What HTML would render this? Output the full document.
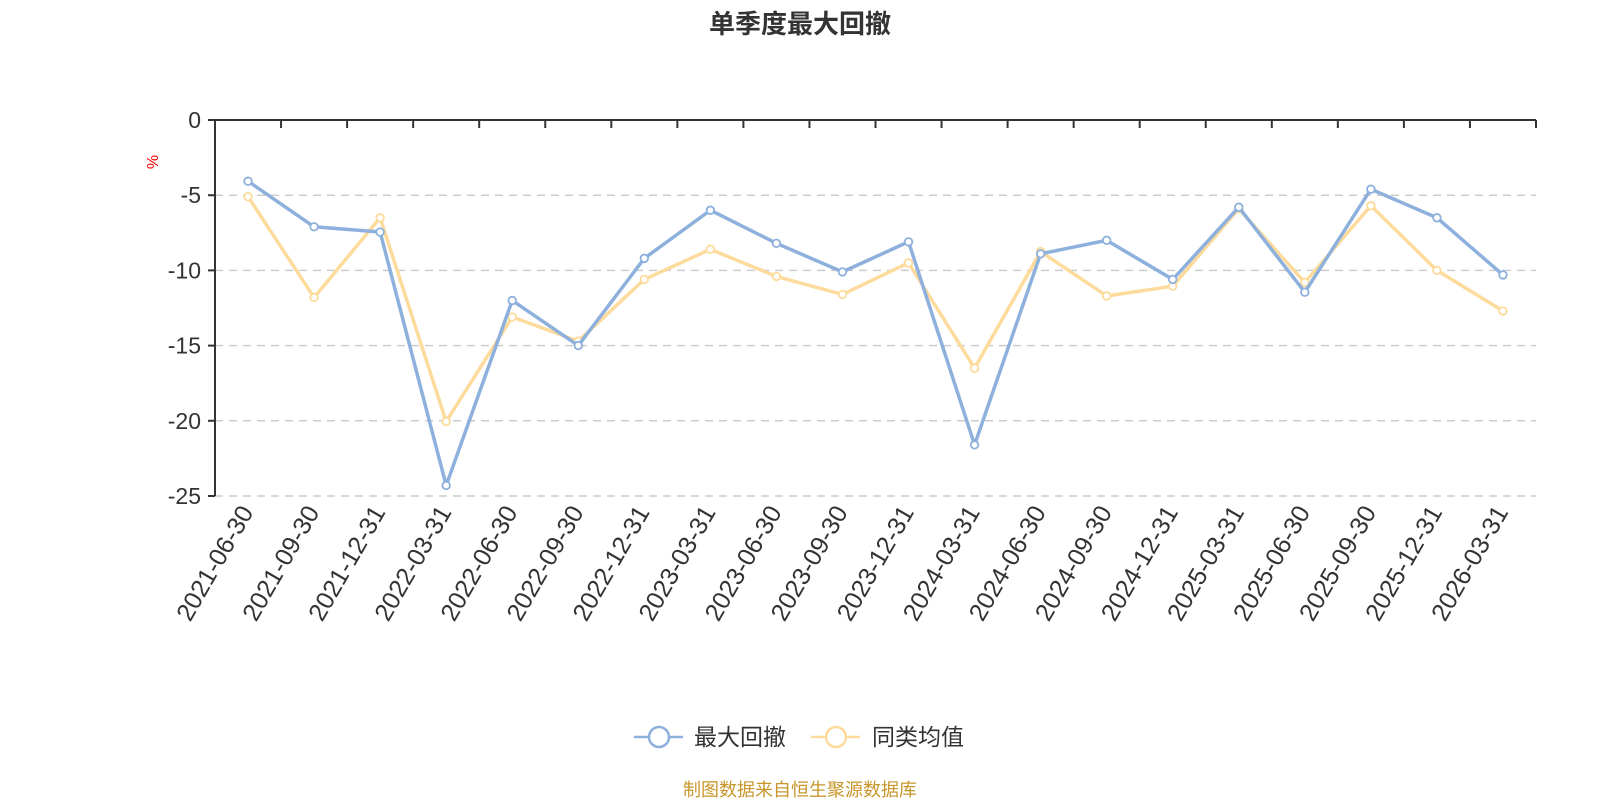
<!DOCTYPE html>
<html><head><meta charset="utf-8"><style>
body{margin:0;background:#fff;}
svg text{font-family:"Liberation Sans","Noto Sans CJK SC",sans-serif;}
</style></head><body>
<svg id="c" width="1600" height="800" xmlns="http://www.w3.org/2000/svg">
<text x="800" y="33" text-anchor="middle" font-size="26" font-weight="bold" fill="#333">单季度最大回撤</text>
<text x="0" y="0" transform="translate(158,162) rotate(-90)" text-anchor="middle" font-size="16" fill="#ff0000">%</text>
<g id="grid"></g>
<g id="series"></g>
<g>
<line x1="634" y1="737" x2="683" y2="737" stroke="#8eb0dc" stroke-width="2.5"/>
<circle cx="659" cy="737" r="10" fill="#fff" stroke="#8eb0dc" stroke-width="2.5"/>
<text x="694" y="745" font-size="23" fill="#333">最大回撤</text>
<line x1="811" y1="737" x2="860" y2="737" stroke="#fddb9c" stroke-width="2.5"/>
<circle cx="836" cy="737" r="10" fill="#fff" stroke="#fddb9c" stroke-width="2.5"/>
<text x="872" y="745" font-size="23" fill="#333">同类均值</text>
</g>
<text x="800" y="796" text-anchor="middle" font-size="18" fill="#c8962a">制图数据来自恒生聚源数据库</text>
</svg>
<script>
var NS="http://www.w3.org/2000/svg",svg=document.getElementById('c');
function el(t,a,p,txt){var e=document.createElementNS(NS,t);for(var k in a)e.setAttribute(k,a[k]);if(txt!=null)e.textContent=txt;(p||svg).appendChild(e);return e;}
var L=215,R=1536,T=120,B=496,n=20,sp=(R-L)/n;
var g=document.getElementById('grid');
for(var i=0;i<=5;i++){var y=T+i*(B-T)/5;
 if(i>0)el('line',{x1:L,x2:R,y1:y,y2:y,stroke:'#ccc','stroke-width':1.5,'stroke-dasharray':'8,6'},g);
 el('line',{x1:L-7,x2:L,y1:y,y2:y,stroke:'#333','stroke-width':2},g);
 el('text',{x:L-14,y:y+8,'text-anchor':'end','font-size':23,fill:'#333'},g,i==0?'0':'-'+(i*5));}
el('line',{x1:L,x2:R,y1:T,y2:T,stroke:'#333','stroke-width':2},g);
el('line',{x1:L,x2:L,y1:T,y2:B,stroke:'#333','stroke-width':2},g);
var labs=["2021-06-30","2021-09-30","2021-12-31","2022-03-31","2022-06-30","2022-09-30","2022-12-31","2023-03-31","2023-06-30","2023-09-30","2023-12-31","2024-03-31","2024-06-30","2024-09-30","2024-12-31","2025-03-31","2025-06-30","2025-09-30","2025-12-31","2026-03-31"];
for(var i=0;i<=n;i++){var x=L+i*sp;el('line',{x1:x,x2:x,y1:T,y2:T+8,stroke:'#333','stroke-width':2},g);}
for(var i=0;i<n;i++){var x=L+(i+.5)*sp;el('text',{transform:'translate('+(x+6)+',512) rotate(-60)','text-anchor':'end','font-size':25,fill:'#333'},g,labs[i]);}
var A=[-4.07,-7.1,-7.45,-24.3,-12.0,-15.0,-9.2,-6.0,-8.2,-10.1,-8.1,-21.6,-8.9,-8.0,-10.6,-5.8,-11.45,-4.6,-6.5,-10.3];
var Bv=[-5.1,-11.8,-6.5,-20.05,-13.1,-14.7,-10.6,-8.6,-10.4,-11.6,-9.5,-16.5,-8.75,-11.7,-11.05,-5.9,-10.8,-5.7,-10.0,-12.7];
var s=document.getElementById('series');
function draw(d,c){var p=d.map(function(v,i){return (L+(i+.5)*sp)+','+(T-v*(B-T)/25)}).join(' ');
 el('polyline',{points:p,fill:'none',stroke:c,'stroke-width':3.5,'stroke-linejoin':'round'},s);
 d.forEach(function(v,i){el('circle',{cx:L+(i+.5)*sp,cy:T-v*(B-T)/25,r:3.8,fill:'#fff',stroke:c,'stroke-width':1.8},s);});}
draw(Bv,'#fddb9c');draw(A,'#8eb0dc');
</script>
</body></html>
